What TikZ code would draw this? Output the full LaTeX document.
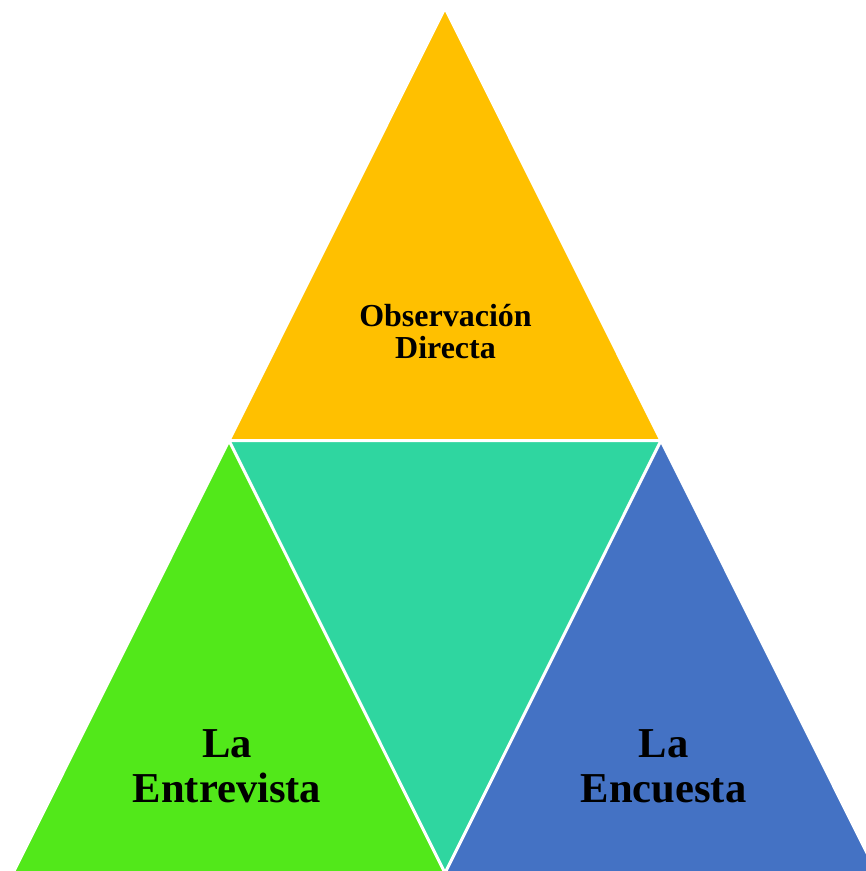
\documentclass[tikz,border=0pt]{standalone}
\usepackage{fontspec}
\setmainfont{Liberation Serif}
\definecolor{cTop}{HTML}{FFC000}
\definecolor{cLeft}{HTML}{52E81A}
\definecolor{cMid}{HTML}{2FD6A0}
\definecolor{cRight}{HTML}{4472C4}
\begin{document}
\begin{tikzpicture}[x=1pt,y=-1pt,
  tri/.style={draw=white,line width=3pt,line join=miter},
  small/.style={font=\bfseries\fontsize{32}{32}\selectfont,align=center,anchor=base,inner sep=0pt},
  big/.style={font=\bfseries\fontsize{42.6}{45}\selectfont,align=center,anchor=base,inner sep=0pt}]
\useasboundingbox (0,0) rectangle (866,871);
\coordinate (A) at (445,8);
\coordinate (B) at (229,440.5);
\coordinate (C) at (661,440.5);
\coordinate (D) at (13,873);
\coordinate (E) at (445,873);
\coordinate (F) at (877,873);
\begin{scope}
\clip (0,0) rectangle (866,871);
\fill[cTop] (A) -- (B) -- (C) -- cycle;
\fill[cLeft] (B) -- (D) -- (E) -- cycle;
\fill[cMid] (B) -- (C) -- (E) -- cycle;
\fill[cRight] (C) -- (E) -- (F) -- cycle;
\draw[tri] (A) -- (B) -- (C) -- cycle;
\draw[tri] (B) -- (D) -- (E) -- cycle;
\draw[tri] (C) -- (E) -- (F) -- cycle;
\end{scope}
\node[small] (obs) at (445.5,358) {Observación\\Directa};
\node[big] (ent) at (227,802) {La\\Entrevista};
\node[big] (enc) at (663.5,802) {La\\Encuesta};
\end{tikzpicture}
\end{document}
